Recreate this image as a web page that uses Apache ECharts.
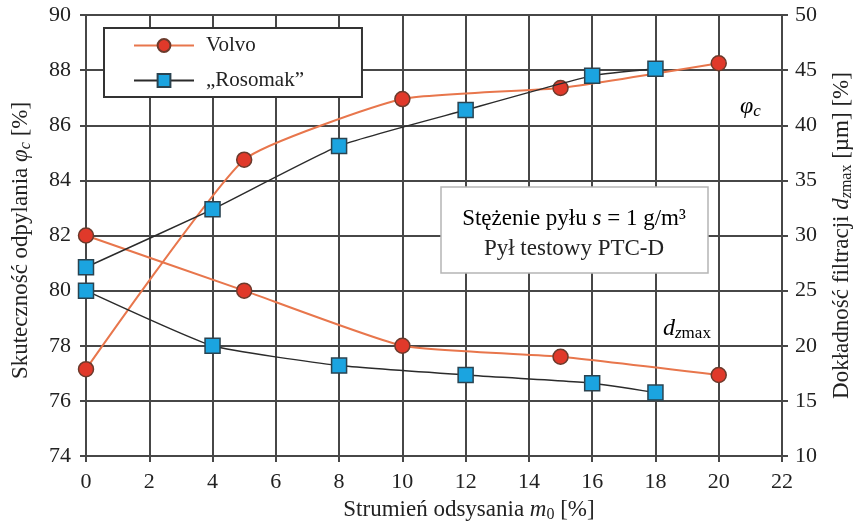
<!DOCTYPE html>
<html><head><meta charset="utf-8">
<script src="https://cdn.jsdelivr.net/npm/echarts@6/dist/echarts.min.js"></script>
<style>html,body{margin:0;padding:0;background:#fff}#c{width:854px;height:525px}</style>
</head><body><div id="c"></div>
<script>
const xTicksMax = 22;
const xVolvo = [0, 5, 10, 15, 20];
const volvoPhi = [77.15, 84.75, 86.95, 87.35, 88.25];
const volvoDz = [30, 25, 20, 19.0, 17.35];
const xRosomak = [0, 4, 8, 12, 16, 18];
const rosomakPhi = [80.85, 82.95, 85.25, 86.55, 87.8, 88.05];
const rosomakDz = [25, 20, 18.2, 17.35, 16.6, 15.75];
const seriesNames = ['Volvo', '\u201ERosomak\u201D'];

const FONT = '"Liberation Serif", "DejaVu Serif", serif';
const pairs = (xs, ys) => xs.map((x, i) => [x, ys[i]]);
const subRich = {
  n: { fontFamily: FONT, fontSize: 23, color: '#222', lineHeight: 26, verticalAlign: 'middle' },
  i: { fontFamily: FONT, fontSize: 23, fontStyle: 'italic', color: '#222', lineHeight: 26, verticalAlign: 'middle' },
  si: { fontFamily: FONT, fontSize: 16, fontStyle: 'italic', color: '#222', lineHeight: 8, verticalAlign: 'bottom' },
  s: { fontFamily: FONT, fontSize: 16, color: '#222', lineHeight: 8, verticalAlign: 'bottom' }
};
const annRich = {
  i: { fontFamily: FONT, fontSize: 24, fontStyle: 'italic', color: '#222', lineHeight: 26, verticalAlign: 'middle' },
  si: { fontFamily: FONT, fontSize: 17, fontStyle: 'italic', color: '#222', lineHeight: 8, verticalAlign: 'bottom' },
  s: { fontFamily: FONT, fontSize: 17, color: '#222', lineHeight: 8, verticalAlign: 'bottom' }
};
const volvoLine = { color: '#E8764C', width: 2 };
const volvoItem = { color: '#E0392A', borderColor: '#6b3a2c', borderWidth: 1.5 };
const rosLine = { color: '#2b2b2b', width: 1.5 };
const rosItem = { color: '#1BA4E0', borderColor: '#2a4350', borderWidth: 1.5 };
const grid = '#474747';
const tickFont = { fontFamily: FONT, fontSize: 22, color: '#222' };

const chart = echarts.init(document.getElementById('c'));
chart.setOption({
  animation: false,
  backgroundColor: '#fff',
  grid: { left: 86, right: 72, top: 15, bottom: 69, containLabel: false, outerBoundsMode: 'none' },
  legend: {
    data: seriesNames, orient: 'vertical', left: 104, top: 28,
    padding: [7, 58, 6, 29], itemGap: 14, itemWidth: 60, itemHeight: 16,
    backgroundColor: '#fff', borderColor: '#333', borderWidth: 2,
    textStyle: { fontFamily: FONT, fontSize: 21, color: '#222', lineHeight: 18, padding: [0, 0, 0, 7] }
  },
  xAxis: {
    type: 'value', min: 0, max: xTicksMax, interval: 2,
    name: '{n|Strumień odsysania }{i|m}{s|0}{n| [%]}',
    nameLocation: 'middle', nameGap: 41,
    nameTextStyle: { rich: subRich, padding: [0, 0, 0, 70] },
    axisLine: { show: true, lineStyle: { color: grid, width: 2 } },
    axisTick: { show: true, length: 6, lineStyle: { color: grid, width: 2 } },
    axisLabel: Object.assign({ margin: 15 }, tickFont),
    splitLine: { show: true, lineStyle: { color: grid, width: 2 } }
  },
  yAxis: [{
    type: 'value', min: 74, max: 90, interval: 2, position: 'left',
    name: '{n|Skuteczność odpylania }{i|φ}{si|c}{n| [%]}',
    nameLocation: 'middle', nameGap: 52, nameRotate: 90,
    nameTextStyle: { rich: subRich, padding: [0, 10, 0, 0] },
    axisLine: { show: true, lineStyle: { color: grid, width: 2 } },
    axisTick: { show: true, length: 6, lineStyle: { color: grid, width: 2 } },
    axisLabel: Object.assign({ margin: 15 }, tickFont),
    splitLine: { show: true, lineStyle: { color: grid, width: 2 } }
  }, {
    type: 'value', min: 10, max: 50, interval: 5, position: 'right',
    name: '{n|Dokładność filtracji }{i|d}{si|z}{s|max}{n| [µm] [%]}',
    nameLocation: 'middle', nameGap: 47, nameRotate: 90,
    nameTextStyle: { rich: subRich },
    axisLine: { show: true, lineStyle: { color: grid, width: 2 } },
    axisTick: { show: true, length: 6, lineStyle: { color: grid, width: 2 } },
    axisLabel: Object.assign({ margin: 13 }, tickFont),
    splitLine: { show: false }
  }],
  series: [
    { name: seriesNames[0], type: 'line', yAxisIndex: 0, data: pairs(xVolvo, volvoPhi), smooth: 0.15,
      symbol: 'circle', symbolSize: 15, lineStyle: volvoLine, itemStyle: volvoItem, z: 3 },
    { name: seriesNames[0], type: 'line', yAxisIndex: 1, data: pairs(xVolvo, volvoDz), smooth: 0.15,
      symbol: 'circle', symbolSize: 15, lineStyle: volvoLine, itemStyle: volvoItem, z: 3 },
    { name: seriesNames[1], type: 'line', yAxisIndex: 0, data: pairs(xRosomak, rosomakPhi), smooth: 0.15,
      symbol: 'rect', symbolSize: 15, lineStyle: rosLine, itemStyle: rosItem, z: 4 },
    { name: seriesNames[1], type: 'line', yAxisIndex: 1, data: pairs(xRosomak, rosomakDz), smooth: 0.15,
      symbol: 'rect', symbolSize: 15, lineStyle: rosLine, itemStyle: rosItem, z: 4 }
  ],
  graphic: [
    { type: 'rect', x: 441, y: 187, z: 100,
      shape: { width: 267, height: 86 },
      style: { fill: '#fff', stroke: '#b5b5b5', lineWidth: 1.5 } },
    { type: 'text', z: 101, x: 574, y: 219,
      style: { text: '{n|Stężenie pyłu }{i|s}{n| = 1 g/m³}', align: 'center', verticalAlign: 'middle', rich: {
        n: { fontFamily: FONT, fontSize: 23, color: '#222' },
        i: { fontFamily: FONT, fontSize: 23, fontStyle: 'italic', color: '#222' } } } },
    { type: 'text', z: 101, x: 574, y: 249,
      style: { text: 'Pył testowy PTC-D', align: 'center', verticalAlign: 'middle',
        fontFamily: FONT, fontSize: 23, fill: '#222' } },
    { type: 'text', z: 101, x: 740, y: 107,
      style: { text: '{i|φ}{si|c}', verticalAlign: 'middle', rich: annRich } },
    { type: 'text', z: 101, x: 663, y: 329,
      style: { text: '{i|d}{si|z}{s|max}', verticalAlign: 'middle', rich: annRich } }
  ]
});
</script></body></html>
